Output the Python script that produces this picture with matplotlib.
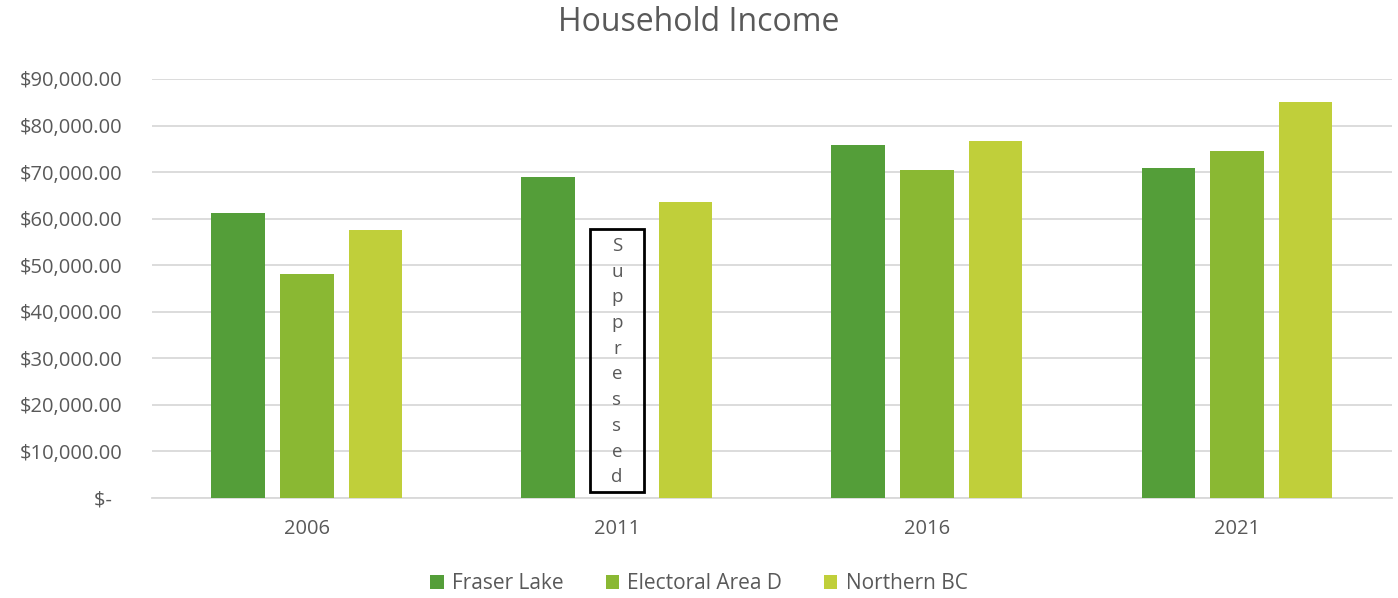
import numpy as np
import matplotlib
matplotlib.use("Agg")
import matplotlib.pyplot as plt
from matplotlib.patches import Rectangle
from matplotlib.ticker import FuncFormatter

years = ["2006", "2011", "2016", "2021"]
series = ["Fraser Lake", "Electoral Area D", "Northern BC"]
fraser_lake = [61200, 68950, 75800, 70900]
area_d = [48100, np.nan, 70450, 74550]   # 2011 suppressed
northern_bc = [57550, 63550, 76650, 85050]
colors = ["#549E39", "#8AB833", "#C0CF3A"]

plt.rcParams['font.family'] = ['Open Sans', 'DejaVu Sans']
grey = "#595959"

fig = plt.figure(figsize=(13.98, 5.98), dpi=100)
ax = fig.add_axes([0.1087, 0.1672, 0.8870, 0.7007])

x = np.arange(len(years))
width = 0.174
step = 0.221
for i, (vals, name) in enumerate(zip([fraser_lake, area_d, northern_bc], series)):
    ax.bar(x + (i - 1) * step, vals, width, color=colors[i], label=name, zorder=3)

# suppressed marker for Electoral Area D, 2011
ax.add_patch(Rectangle((1 - width / 2, 1300), width, 56500, fill=False,
                       edgecolor="black", linewidth=2, zorder=4))
ax.text(1, 29300, "\n".join("Suppressed"), ha="center", va="center",
        fontsize=13.5, color=grey, linespacing=1.55, zorder=5)

ax.set_xlim(-0.5, 3.5)
ax.set_ylim(0, 90000)
ax.set_yticks(np.arange(0, 90001, 10000))
ax.yaxis.set_major_formatter(FuncFormatter(
    lambda v, p: "$-  " if v == 0 else f"${v:,.2f}"))
ax.set_xticks(x)
ax.set_xticklabels(years)
ax.tick_params(length=0, labelsize=14.5, labelcolor=grey)
ax.tick_params(axis="x", pad=15)
ax.tick_params(axis="y", pad=21)

ax.grid(axis="y", color="#D9D9D9", linewidth=1.3, zorder=0)
for s in ["top", "right", "left"]:
    ax.spines[s].set_visible(False)
ax.spines["bottom"].set_color("#D9D9D9")
ax.spines["bottom"].set_linewidth(1.3)

fig.suptitle("Household Income", fontsize=23, color=grey, y=0.99)
fig.legend(loc="lower center", ncol=3, frameon=False, fontsize=15,
           labelcolor=grey, handlelength=0.65, handleheight=0.65,
           columnspacing=2.0, handletextpad=0.4, bbox_to_anchor=(0.5, -0.025))

fig.savefig("out.png", dpi=100)
